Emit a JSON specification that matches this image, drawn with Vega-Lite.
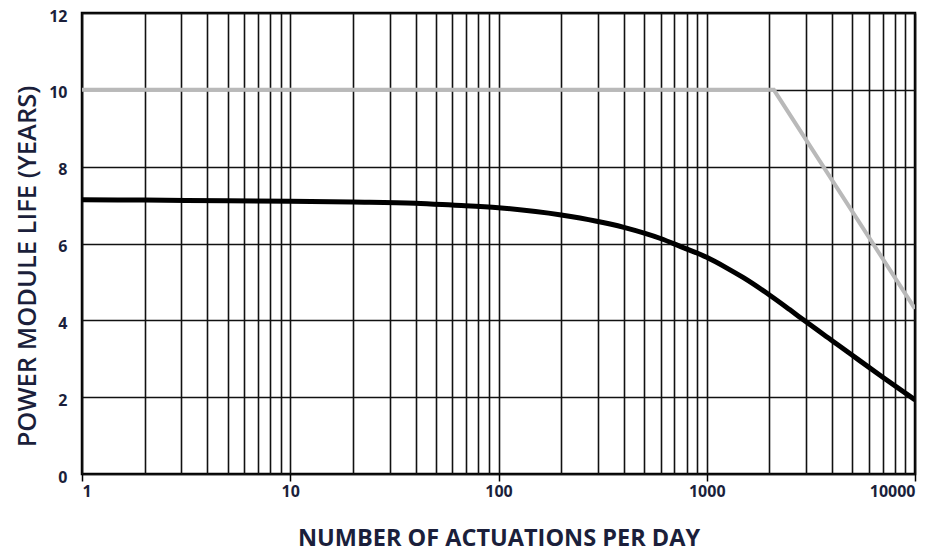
{
  "$schema": "https://vega.github.io/schema/vega-lite/v6.json",
  "width": 833,
  "height": 461,
  "autosize": "none",
  "padding": {"left": 82, "top": 13, "right": 15, "bottom": 79},
  "background": "white",
  "config": {
    "view": {"stroke": "#000", "strokeWidth": 2.5},
    "font": "Open Sans"
  },
  "datasets": {
    "life": [
      {"actuations": 1, "years": 7.14},
      {"actuations": 2, "years": 7.13},
      {"actuations": 5, "years": 7.11},
      {"actuations": 10, "years": 7.1},
      {"actuations": 20, "years": 7.08},
      {"actuations": 40, "years": 7.05},
      {"actuations": 60, "years": 7.0},
      {"actuations": 100, "years": 6.93},
      {"actuations": 200, "years": 6.74},
      {"actuations": 400, "years": 6.42},
      {"actuations": 600, "years": 6.13},
      {"actuations": 750, "years": 5.92},
      {"actuations": 1000, "years": 5.64},
      {"actuations": 1250, "years": 5.36},
      {"actuations": 1500, "years": 5.11},
      {"actuations": 2000, "years": 4.66},
      {"actuations": 2500, "years": 4.28},
      {"actuations": 3000, "years": 3.96},
      {"actuations": 4000, "years": 3.47},
      {"actuations": 5000, "years": 3.09},
      {"actuations": 7000, "years": 2.52},
      {"actuations": 10000, "years": 1.93}
    ],
    "gray": [
      {"actuations": 1, "years": 10},
      {"actuations": 2100, "years": 10},
      {"actuations": 10000, "years": 4.3}
    ]
  },
  "layer": [
    {
      "data": {"name": "gray"},
      "mark": {"type": "line", "color": "#b9b9b9", "strokeWidth": 4, "clip": true},
      "encoding": {
        "x": {
          "field": "actuations", "type": "quantitative",
          "scale": {"type": "log", "domain": [1, 10000], "nice": false},
          "axis": {
            "title": "NUMBER OF ACTUATIONS PER DAY",
            "values": [1,2,3,4,5,6,7,8,9,10,20,30,40,50,60,70,80,90,100,200,300,400,500,600,700,800,900,1000,2000,3000,4000,5000,6000,7000,8000,9000,10000],
            "labelExpr": "indexof([1,10,100,1000,10000], datum.value) >= 0 ? format(datum.value, 'd') : ''",
            "labelFlush": true,
            "labelOverlap": false,
            "labelFont": "Open Sans",
            "labelFontWeight": "bold",
            "labelFontSize": 16,
            "labelColor": "#1b1f3b",
            "labelPadding": 2,
            "tickSize": 7,
            "tickWidth": 1.5,
            "tickColor": "#000",
            "tickOpacity": {"condition": {"test": "indexof([1,10,100,1000,10000], datum.value) >= 0", "value": 1}, "value": 0},
            "domain": false,
            "grid": true,
            "gridColor": "#111",
            "gridWidth": 1.6,
            "gridOpacity": 1,
            "titleFont": "Open Sans",
            "titleFontWeight": "bold",
            "titleFontSize": 23.5,
            "titleColor": "#1b1f3b",
            "titlePadding": 27
          }
        },
        "y": {
          "field": "years", "type": "quantitative",
          "scale": {"domain": [0, 12], "nice": false},
          "axis": {
            "title": "POWER MODULE LIFE (YEARS)",
            "values": [0, 2, 4, 6, 8, 10, 12],
            "labelFont": "Open Sans",
            "labelFontWeight": "bold",
            "labelFontSize": 16,
            "labelColor": "#1b1f3b",
            "labelPadding": 15,
            "labelBaseline": "middle",
            "labelOffset": 3,
            "ticks": false,
            "domain": false,
            "grid": true,
            "gridColor": "#111",
            "gridWidth": 1.6,
            "gridOpacity": 1,
            "titleFont": "Open Sans",
            "titleFontWeight": 600,
            "titleFontSize": 25.5,
            "titleColor": "#1b1f3b",
            "titlePadding": 8,
            "titleY": 253
          }
        }
      }
    },
    {
      "data": {"name": "life"},
      "mark": {"type": "line", "color": "#000", "strokeWidth": 5, "interpolate": "monotone", "clip": true},
      "encoding": {
        "x": {"field": "actuations", "type": "quantitative"},
        "y": {"field": "years", "type": "quantitative"}
      }
    }
  ]
}
